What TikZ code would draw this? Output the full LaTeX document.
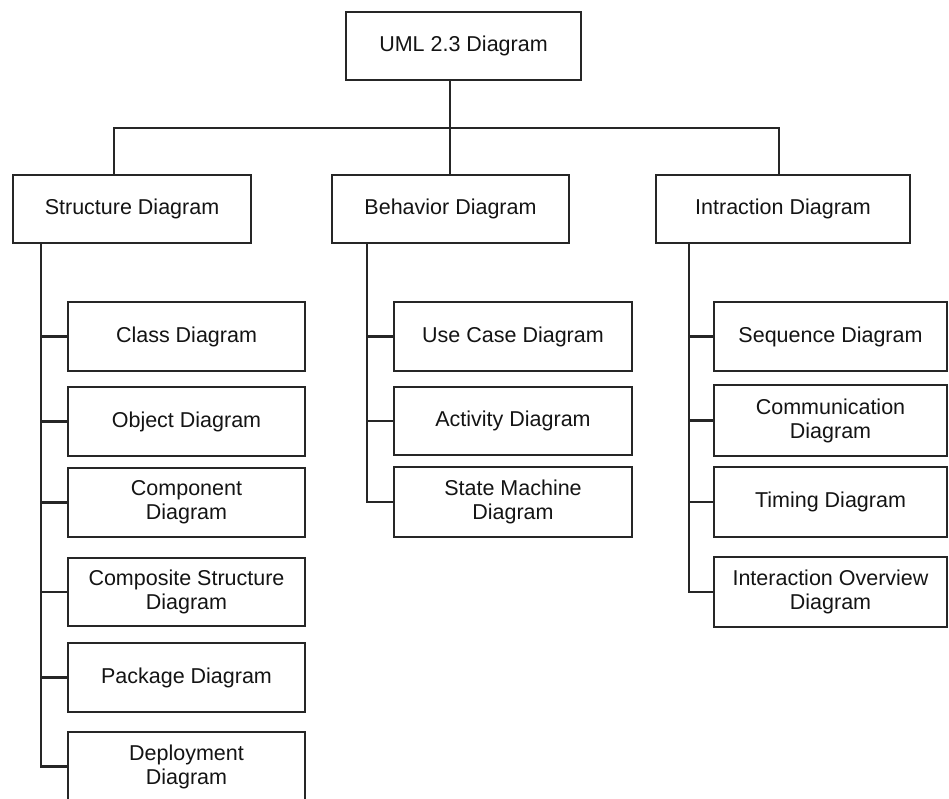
\documentclass[tikz,border=0pt]{standalone}
\usepackage{fontspec}
\setmainfont{Liberation Sans}
\begin{document}
\begin{tikzpicture}[x=1pt,y=-1pt,
  box/.style={draw=black!85, line width=2.2pt, fill=white, inner sep=0pt,
    minimum height=69pt, align=center, text=black!92,
    font=\fontsize{21.5}{24}\selectfont},
  link/.style={draw=black!85, line width=2.2pt}]
\useasboundingbox (0,0) rectangle (949,799);
\clip (0,0) rectangle (949,799);
% top
\node[box, minimum width=235pt, minimum height=68pt] (uml) at (463.5,46) {UML 2.3 Diagram};
% second level
\node[box, minimum width=238pt, minimum height=68pt] (struct) at (132,209) {Structure Diagram};
\node[box, minimum width=237pt, minimum height=68pt] (behav) at (450.5,209) {Behavior Diagram};
\node[box, minimum width=254pt, minimum height=68pt] (inter) at (783,209) {Intraction Diagram};
% structure children
\node[box, minimum width=237pt] (class) at (186.5,336.5) {Class Diagram};
\node[box, minimum width=237pt] (object) at (186.5,421.5) {Object Diagram};
\node[box, minimum width=237pt] (component) at (186.5,502.5) {Component\\Diagram};
\node[box, minimum width=237pt, minimum height=68pt] (composite) at (186.5,592) {Composite Structure\\Diagram};
\node[box, minimum width=237pt] (package) at (186.5,677.5) {Package Diagram};
\node[box, minimum width=237pt] (deploy) at (186.5,766.5) {Deployment\\Diagram};
% behavior children
\node[box, minimum width=238pt] (usecase) at (513,336.5) {Use Case Diagram};
\node[box, minimum width=238pt, minimum height=68pt] (activity) at (513,421) {Activity Diagram};
\node[box, minimum width=238pt, minimum height=70pt] (state) at (513,502) {State Machine\\Diagram};
% interaction children
\node[box, minimum width=233pt] (sequence) at (830.5,336.5) {Sequence Diagram};
\node[box, minimum width=233pt, minimum height=71pt] (comm) at (830.5,420.5) {Communication\\Diagram};
\node[box, minimum width=233pt, minimum height=70pt] (timing) at (830.5,502) {Timing Diagram};
\node[box, minimum width=233pt, minimum height=70pt] (overview) at (830.5,592) {Interaction Overview\\Diagram};
% bus coordinates
\coordinate (busL) at (114,128);
\coordinate (busC) at (450,128);
\coordinate (busR) at (779,128);
\coordinate (tS) at (41,243);
\coordinate (tB) at (367,243);
\coordinate (tI) at (689,243);
% top connectors
\draw[link] (busC |- uml.south) -- (busC |- behav.north);
\draw[link] (busL |- struct.north) -- (busL) -- (busR) -- (busR |- inter.north);
% structure trunk
\draw[link] (tS |- struct.south) |- (deploy.west);
\foreach \n in {class,object,component,composite,package}
  \draw[link] (\n.west) -- (\n.west -| tS);
% behavior trunk
\draw[link] (tB |- behav.south) |- (state.west);
\foreach \n in {usecase,activity}
  \draw[link] (\n.west) -- (\n.west -| tB);
% interaction trunk
\draw[link] (tI |- inter.south) |- (overview.west);
\foreach \n in {sequence,comm,timing}
  \draw[link] (\n.west) -- (\n.west -| tI);
\end{tikzpicture}
\end{document}
